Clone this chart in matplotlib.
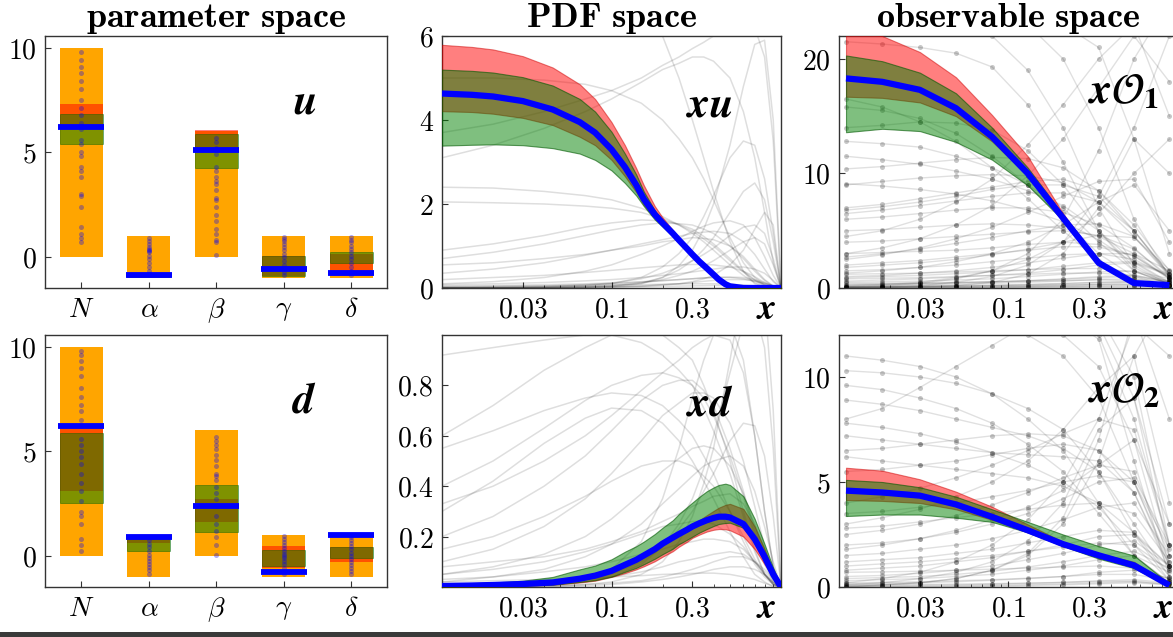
import numpy as np
import matplotlib
matplotlib.use('Agg')
import matplotlib.pyplot as plt
from matplotlib.patches import Rectangle
from matplotlib.ticker import FixedLocator, FixedFormatter, NullFormatter, LogLocator

plt.rcParams['mathtext.fontset'] = 'cm'
plt.rcParams['font.family'] = ['DejaVu Serif']

# ---------------- parameter space ----------------
param_labels = [r'$N$', r'$\alpha$', r'$\beta$', r'$\gamma$', r'$\delta$']
prior_lo = [0, -1, 0, -1, -1]
prior_hi = [10, 1, 6, 1, 1]

u_red_lo = [6.1, -0.95, 5.0, -0.92, -0.92]
u_red_hi = [7.3, -0.82, 6.05, 0.02, 0.12]
u_green_lo = [5.4, -0.95, 4.25, -0.92, -0.32]
u_green_hi = [6.85, -0.82, 5.87, 0.02, 0.21]
u_true = [6.2, -0.88, 5.1, -0.57, -0.8]

d_red_lo = [3.1, 0.6, 1.6, -0.6, -0.32]
d_red_hi = [6.1, 0.85, 2.7, 0.46, 0.4]
d_green_lo = [2.5, 0.2, 1.15, -0.48, -0.11]
d_green_hi = [5.85, 0.8, 3.4, 0.27, 0.4]
d_true = [6.2, 0.9, 2.39, -0.8, 1.0]

# sampled parameter values (dots)
u_dots = [
    [9.8, 9.4, 9.1, 8.8, 8.4, 8.0, 7.5, 7.1, 6.8, 6.4, 6.1, 5.6, 5.4, 5.0, 4.8,
     4.3, 4.1, 3.8, 3.0, 2.9, 2.4, 1.4, 1.1, 0.9, 0.7],
    [0.9, 0.75, 0.6, 0.45, 0.35, 0.3, 0.25, 0.2, 0.05, -0.1, -0.3, -0.5, -0.7, -0.85],
    [5.7, 5.5, 5.2, 4.9, 4.3, 4.1, 3.8, 3.6, 3.5, 3.2, 2.8, 2.7, 2.4, 2.0, 1.7,
     1.3, 1.1, 0.8, 0.7, 0.1],
    [0.95, 0.85, 0.75, 0.6, 0.45, 0.3, 0.15, 0.0, -0.2, -0.4, -0.6, -0.75, -0.9],
    [0.95, 0.8, 0.7, 0.5, 0.35, 0.2, 0.05, -0.1, -0.3, -0.5, -0.7, -0.9],
]
d_dots = [
    [9.8, 9.6, 9.3, 9.0, 8.6, 8.0, 7.6, 7.2, 6.9, 6.5, 6.2, 5.6, 5.3, 5.0, 4.7,
     4.4, 3.9, 3.5, 3.1, 2.6, 2.1, 1.9, 1.5, 0.8, 0.5, 0.2],
    [0.9, 0.75, 0.55, 0.4, 0.2, 0.05, -0.1, -0.25, -0.4, -0.55, -0.7, -0.9],
    [5.7, 5.5, 5.3, 5.1, 4.8, 4.6, 4.3, 3.9, 3.8, 3.6, 3.3, 3.0, 2.7, 2.4, 1.9,
     1.5, 1.2, 0.9, 0.5, 0.05],
    [0.95, 0.8, 0.65, 0.5, 0.35, 0.2, 0.1, 0.0, -0.1, -0.25, -0.4, -0.6, -0.8, -0.9],
    [0.9, 0.75, 0.6, 0.45, 0.3, 0.15, 0.0, -0.15, -0.3, -0.45, -0.6, -0.75, -0.9],
]

# ---------------- PDF space ----------------
x_pdf = [0.01, 0.015, 0.02, 0.03, 0.045, 0.065, 0.08, 0.1, 0.12, 0.14, 0.155,
         0.18, 0.2, 0.23, 0.25, 0.28, 0.3, 0.33, 0.365, 0.4, 0.43, 0.47, 0.5,
         0.6, 0.7, 0.8, 0.9, 1.0]

xu_true = [4.63, 4.6, 4.56, 4.45, 4.25, 3.95, 3.7, 3.3, 2.88, 2.45, 2.12,
           1.75, 1.55, 1.3, 1.14, 0.93, 0.8, 0.63, 0.47, 0.32, 0.2, 0.09, 0.04,
           0, 0, 0, 0, 0]
xu_red_hi = [5.79, 5.74, 5.68, 5.52, 5.25, 4.85, 4.5, 3.95, 3.4, 2.85, 2.45,
             1.95, 1.68, 1.38, 1.18, 0.96, 0.82, 0.65, 0.49, 0.33, 0.21, 0.1, 0.05,
             0, 0, 0, 0, 0]
xu_red_lo = [4.21, 4.19, 4.15, 4.05, 3.88, 3.6, 3.4, 3.05, 2.66, 2.28, 1.98,
             1.66, 1.48, 1.25, 1.1, 0.9, 0.77, 0.61, 0.45, 0.3, 0.18, 0.08, 0.03,
             0, 0, 0, 0, 0]
xu_green_hi = [5.2, 5.17, 5.13, 5.02, 4.82, 4.5, 4.2, 3.72, 3.2, 2.7, 2.3,
               1.85, 1.62, 1.35, 1.17, 0.95, 0.82, 0.65, 0.49, 0.33, 0.21, 0.1, 0.05,
               0, 0, 0, 0, 0]
xu_green_lo = [3.39, 3.41, 3.42, 3.4, 3.33, 3.2, 3.05, 2.8, 2.5, 2.2, 1.95,
               1.63, 1.46, 1.23, 1.08, 0.88, 0.75, 0.59, 0.44, 0.29, 0.17, 0.07, 0.03,
               0, 0, 0, 0, 0]

xd_true = [0.004, 0.006, 0.008, 0.012, 0.018, 0.033, 0.045, 0.064, 0.088, 0.108, 0.125,
           0.15, 0.172, 0.196, 0.21, 0.228, 0.24, 0.253, 0.265, 0.274, 0.279, 0.279,
           0.276, 0.25, 0.19, 0.12, 0.05, 0.0]
xd_red_hi = [0.005, 0.007, 0.009, 0.013, 0.02, 0.034, 0.045, 0.063, 0.087, 0.106, 0.123,
             0.147, 0.168, 0.194, 0.208, 0.23, 0.245, 0.265, 0.285, 0.302, 0.315, 0.326,
             0.33, 0.31, 0.24, 0.15, 0.065, 0.0]
xd_red_lo = [0.001, 0.002, 0.003, 0.005, 0.009, 0.018, 0.025, 0.04, 0.055, 0.07, 0.082,
             0.102, 0.12, 0.142, 0.16, 0.18, 0.195, 0.208, 0.22, 0.227, 0.23, 0.229,
             0.225, 0.2, 0.15, 0.09, 0.04, 0.0]
xd_green_hi = [0.012, 0.015, 0.018, 0.025, 0.04, 0.07, 0.085, 0.11, 0.14, 0.162, 0.18,
               0.21, 0.235, 0.265, 0.29, 0.318, 0.335, 0.358, 0.38, 0.395, 0.405, 0.41,
               0.405, 0.36, 0.27, 0.17, 0.075, 0.0]
xd_green_lo = [0.001, 0.002, 0.003, 0.005, 0.009, 0.02, 0.027, 0.041, 0.06, 0.076, 0.09,
               0.112, 0.13, 0.152, 0.17, 0.188, 0.2, 0.216, 0.23, 0.242, 0.25, 0.254,
               0.255, 0.235, 0.18, 0.11, 0.045, 0.0]

# grey sample curves
x_grey = [0.01, 0.02, 0.04, 0.07, 0.1, 0.15, 0.2, 0.25, 0.3, 0.35, 0.4, 0.5,
          0.6, 0.7, 0.8, 0.9, 1.0]
xu_grey = [
    [5.0, 5.0, 4.95, 4.85, 4.7, 4.4, 4.0, 3.55, 3.1, 2.6, 2.1, 1.2, 0.6, 0.25, 0.08, 0.01, 0],
    [3.7, 3.9, 4.2, 4.5, 4.7, 5.0, 5.3, 5.5, 5.7, 5.85, 6.0, 6.2, 6.3, 6.2, 5.5, 3.5, 0],
    [3.1, 3.4, 3.8, 4.2, 4.5, 4.9, 5.2, 5.35, 5.5, 5.5, 5.4, 5.0, 4.2, 3.1, 1.8, 0.6, 0],
    [2.4, 2.38, 2.3, 2.2, 2.1, 1.9, 1.7, 1.5, 1.3, 1.1, 0.9, 0.55, 0.3, 0.13, 0.04, 0.005, 0],
    [2.05, 2.03, 2.0, 1.95, 1.9, 1.8, 1.65, 1.5, 1.35, 1.17, 1.0, 0.65, 0.38, 0.18, 0.06, 0.01, 0],
    [0.9, 1.05, 1.25, 1.45, 1.55, 1.62, 1.6, 1.52, 1.4, 1.23, 1.05, 0.7, 0.4, 0.2, 0.07, 0.01, 0],
    [0.7, 0.85, 1.05, 1.25, 1.38, 1.5, 1.55, 1.53, 1.5, 1.4, 1.3, 1.0, 0.7, 0.4, 0.18, 0.04, 0],
    [0.55, 0.6, 0.7, 0.8, 0.9, 1.0, 1.1, 1.15, 1.2, 1.18, 1.15, 1.0, 0.75, 0.45, 0.2, 0.05, 0],
    [0.35, 0.45, 0.6, 0.78, 0.9, 1.05, 1.15, 1.23, 1.3, 1.33, 1.35, 1.3, 1.1, 0.8, 0.45, 0.15, 0],
    [0.1, 0.15, 0.25, 0.4, 0.55, 0.8, 1.0, 1.18, 1.35, 1.47, 1.55, 1.6, 1.5, 1.2, 0.75, 0.3, 0],
    [0.0, 0.01, 0.02, 0.05, 0.1, 0.25, 0.5, 0.82, 1.2, 1.7, 2.2, 3.1, 3.5, 3.4, 2.6, 1.3, 0],
    [0, 0, 0.01, 0.02, 0.05, 0.12, 0.25, 0.43, 0.65, 0.92, 1.2, 1.8, 2.3, 2.5, 2.1, 1.1, 0],
    [0, 0, 0, 0.01, 0.03, 0.1, 0.25, 0.53, 0.9, 1.4, 2.0, 3.4, 4.8, 5.8, 5.9, 4.0, 0],
    [9.0, 9.0, 8.8, 8.5, 8.0, 7.0, 6.0, 5.0, 4.0, 3.1, 2.3, 1.1, 0.4, 0.1, 0.02, 0, 0],
    [0, 0.01, 0.03, 0.07, 0.12, 0.22, 0.35, 0.5, 0.65, 0.8, 0.95, 1.25, 1.45, 1.5, 1.3, 0.7, 0],
    [0, 0, 0.01, 0.03, 0.06, 0.12, 0.2, 0.3, 0.4, 0.52, 0.65, 0.9, 1.1, 1.2, 1.05, 0.55, 0],
    [0.05, 0.06, 0.08, 0.1, 0.12, 0.15, 0.18, 0.2, 0.22, 0.24, 0.25, 0.25, 0.22, 0.16, 0.1, 0.04, 0],
    [0.02, 0.03, 0.05, 0.08, 0.1, 0.14, 0.17, 0.2, 0.22, 0.24, 0.25, 0.26, 0.25, 0.2, 0.13, 0.05, 0],
    [0.01, 0.012, 0.015, 0.02, 0.025, 0.03, 0.04, 0.045, 0.05, 0.055, 0.06, 0.06, 0.05, 0.04, 0.02, 0.01, 0],
    [0.08, 0.1, 0.13, 0.17, 0.2, 0.25, 0.3, 0.34, 0.38, 0.42, 0.45, 0.5, 0.5, 0.45, 0.35, 0.18, 0],
    [0.0, 0.0, 0.005, 0.01, 0.02, 0.04, 0.07, 0.1, 0.15, 0.22, 0.3, 0.55, 0.9, 1.4, 1.8, 1.5, 0],
    [0.03, 0.04, 0.05, 0.06, 0.07, 0.08, 0.09, 0.1, 0.1, 0.1, 0.1, 0.09, 0.07, 0.05, 0.03, 0.01, 0],
    [0.0, 0.005, 0.01, 0.02, 0.03, 0.05, 0.08, 0.1, 0.13, 0.16, 0.18, 0.2, 0.2, 0.17, 0.11, 0.04, 0],
    [0.2, 0.25, 0.3, 0.37, 0.42, 0.48, 0.52, 0.55, 0.56, 0.56, 0.55, 0.5, 0.4, 0.27, 0.13, 0.04, 0],
]
xd_grey = [
    [0.55, 0.62, 0.7, 0.75, 0.77, 0.76, 0.72, 0.66, 0.6, 0.52, 0.45, 0.3, 0.18, 0.09, 0.04, 0.01, 0],
    [0.3, 0.42, 0.57, 0.67, 0.71, 0.7, 0.65, 0.58, 0.5, 0.42, 0.35, 0.22, 0.12, 0.05, 0.02, 0, 0],
    [0.6, 0.72, 0.86, 0.95, 1.0, 1.02, 1.0, 0.95, 0.9, 0.8, 0.7, 0.5, 0.3, 0.15, 0.05, 0.01, 0],
    [0.2, 0.28, 0.4, 0.52, 0.62, 0.74, 0.8, 0.82, 0.82, 0.78, 0.72, 0.55, 0.38, 0.22, 0.1, 0.03, 0],
    [0.1, 0.15, 0.24, 0.35, 0.45, 0.58, 0.68, 0.73, 0.77, 0.77, 0.75, 0.65, 0.5, 0.32, 0.16, 0.05, 0],
    [0.05, 0.08, 0.13, 0.2, 0.27, 0.37, 0.46, 0.51, 0.55, 0.56, 0.55, 0.48, 0.37, 0.24, 0.12, 0.04, 0],
    [0.02, 0.04, 0.07, 0.12, 0.17, 0.25, 0.33, 0.39, 0.44, 0.48, 0.5, 0.52, 0.48, 0.38, 0.24, 0.1, 0],
    [0, 0.005, 0.01, 0.03, 0.05, 0.1, 0.16, 0.23, 0.3, 0.38, 0.45, 0.58, 0.65, 0.64, 0.52, 0.28, 0],
    [0, 0, 0.01, 0.02, 0.04, 0.09, 0.16, 0.25, 0.35, 0.47, 0.6, 0.85, 1.05, 1.1, 0.95, 0.55, 0],
    [0, 0, 0, 0.01, 0.02, 0.05, 0.1, 0.18, 0.28, 0.41, 0.55, 0.9, 1.2, 1.3, 1.15, 0.7, 0],
    [0.92, 0.95, 0.98, 1.0, 1.0, 0.97, 0.92, 0.86, 0.8, 0.71, 0.62, 0.45, 0.28, 0.14, 0.05, 0.01, 0],
    [0.15, 0.2, 0.28, 0.36, 0.42, 0.48, 0.5, 0.5, 0.48, 0.44, 0.4, 0.3, 0.2, 0.11, 0.05, 0.01, 0],
    [0.05, 0.07, 0.1, 0.14, 0.17, 0.21, 0.24, 0.25, 0.26, 0.26, 0.25, 0.21, 0.16, 0.1, 0.05, 0.015, 0],
    [0.03, 0.04, 0.06, 0.08, 0.1, 0.13, 0.15, 0.17, 0.18, 0.19, 0.19, 0.18, 0.15, 0.1, 0.05, 0.015, 0],
    [0.01, 0.015, 0.02, 0.03, 0.04, 0.06, 0.08, 0.1, 0.11, 0.12, 0.13, 0.14, 0.13, 0.1, 0.06, 0.02, 0],
    [0, 0, 0.005, 0.01, 0.015, 0.025, 0.04, 0.055, 0.07, 0.085, 0.1, 0.12, 0.12, 0.1, 0.07, 0.03, 0],
    [0.4, 0.5, 0.63, 0.74, 0.8, 0.84, 0.85, 0.83, 0.8, 0.75, 0.68, 0.52, 0.36, 0.2, 0.09, 0.02, 0],
    [0, 0, 0.01, 0.03, 0.07, 0.18, 0.35, 0.55, 0.75, 0.9, 1.0, 1.05, 0.9, 0.6, 0.3, 0.08, 0],
    [0.08, 0.1, 0.12, 0.15, 0.18, 0.22, 0.26, 0.29, 0.32, 0.34, 0.36, 0.37, 0.33, 0.25, 0.15, 0.05, 0],
    [0.33, 0.4, 0.5, 0.6, 0.68, 0.78, 0.85, 0.9, 0.95, 0.98, 1.0, 0.98, 0.85, 0.6, 0.3, 0.08, 0],
    [0.0, 0.0, 0.002, 0.005, 0.01, 0.02, 0.03, 0.04, 0.05, 0.06, 0.07, 0.08, 0.08, 0.07, 0.05, 0.02, 0],
    [0.02, 0.025, 0.03, 0.035, 0.04, 0.045, 0.05, 0.052, 0.054, 0.055, 0.055, 0.05, 0.04, 0.03, 0.015, 0.005, 0],
]

# ---------------- observable space ----------------
x_obs = [0.011, 0.018, 0.03, 0.049, 0.08, 0.13, 0.21, 0.34, 0.55, 0.89]

o1_true = [18.3, 18.0, 17.3, 15.7, 13.2, 10.0, 6.1, 2.2, 0.43, 0.25]
o1_red_hi = [22.5, 22.0, 20.6, 18.4, 15.1, 11.5, 6.5, 2.3, 0.45, 0.3]
o1_red_lo = [16.7, 16.6, 16.2, 15.0, 12.8, 9.8, 6.0, 2.1, 0.4, 0.2]
o1_green_hi = [20.3, 19.8, 18.8, 17.0, 14.0, 10.5, 6.4, 2.4, 0.5, 0.3]
o1_green_lo = [13.6, 13.9, 13.7, 12.75, 11.2, 8.95, 5.9, 2.0, 0.3, 0.15]

o2_true = [4.59, 4.5, 4.35, 3.93, 3.34, 2.7, 2.04, 1.51, 1.03, 0.08]
o2_red_hi = [5.68, 5.54, 5.13, 4.54, 3.82, 2.98, 2.15, 1.6, 1.2, 0.1]
o2_red_lo = [4.14, 4.1, 4.0, 3.7, 3.2, 2.6, 1.95, 1.4, 0.95, 0.05]
o2_green_hi = [5.1, 5.0, 4.75, 4.3, 3.7, 3.1, 2.5, 1.95, 1.5, 0.15]
o2_green_lo = [3.38, 3.45, 3.45, 3.3, 3.1, 2.6, 1.95, 1.35, 0.9, 0.05]

o1_grey = [
    [21.5, 21.3, 21.0, 20.5, 19.3, 16.0, 11.0, 5.0, 1.5, 0.3],
    [15.8, 15.5, 14.8, 13.5, 11.5, 9.0, 6.0, 3.0, 1.0, 0.2],
    [14.0, 14.2, 14.5, 14.4, 13.8, 12.0, 9.0, 5.0, 1.8, 0.3],
    [12.8, 12.6, 12.3, 11.5, 10.5, 9.0, 7.0, 4.0, 1.5, 0.3],
    [11.5, 11.2, 10.8, 10.2, 9.5, 8.5, 7.2, 5.0, 2.3, 0.5],
    [9.0, 9.3, 9.6, 9.8, 9.9, 9.8, 9.2, 7.5, 4.5, 1.0],
    [7.0, 7.3, 7.8, 8.3, 8.8, 9.3, 9.5, 8.5, 5.5, 1.5],
    [6.5, 6.8, 7.2, 7.6, 8.0, 8.3, 8.3, 7.5, 5.0, 1.2],
    [6.0, 6.2, 6.5, 6.8, 7.0, 7.0, 6.6, 5.5, 3.5, 0.8],
    [4.5, 5.0, 6.0, 7.5, 9.5, 12.5, 16.0, 20.0, 23.0, 15.0],
    [3.0, 3.5, 4.3, 5.5, 7.2, 9.8, 13.0, 17.5, 22.0, 18.0],
    [2.5, 2.9, 3.5, 4.3, 5.3, 6.6, 8.0, 9.3, 9.5, 4.0],
    [30.0, 28.0, 26.0, 24.0, 22.0, 19.0, 14.0, 7.0, 2.0, 0.3],
    [28.0, 27.0, 26.0, 25.0, 24.0, 23.0, 20.0, 14.0, 6.0, 1.0],
    [0.1, 0.2, 0.4, 0.8, 1.5, 3.0, 6.0, 12.0, 20.0, 25.0],
    [0.05, 0.1, 0.2, 0.5, 1.0, 2.0, 4.0, 8.0, 14.0, 22.0],
    [0.0, 0.05, 0.1, 0.2, 0.5, 1.2, 3.0, 7.0, 13.0, 10.0],
    [0.2, 0.3, 0.5, 0.9, 1.5, 2.5, 4.0, 6.5, 10.0, 13.0],
    [40.0, 35.0, 30.0, 27.0, 25.0, 24.0, 23.0, 21.0, 13.0, 3.0],
    [3.0, 3.1, 3.2, 3.3, 3.5, 3.8, 4.0, 3.8, 2.8, 0.8],
    [2.0, 2.2, 2.4, 2.7, 3.0, 3.3, 3.6, 3.6, 2.8, 0.9],
    [1.5, 1.6, 1.8, 2.0, 2.3, 2.6, 2.9, 3.0, 2.5, 1.0],
    [1.0, 1.1, 1.3, 1.5, 1.8, 2.2, 2.6, 3.0, 3.0, 1.5],
    [0.8, 0.85, 0.9, 1.0, 1.1, 1.2, 1.3, 1.3, 1.1, 0.5],
    [0.5, 0.55, 0.6, 0.7, 0.8, 1.0, 1.2, 1.4, 1.5, 0.8],
    [0.3, 0.35, 0.4, 0.45, 0.55, 0.65, 0.8, 1.0, 1.1, 0.6],
    [0.15, 0.2, 0.25, 0.3, 0.4, 0.5, 0.6, 0.75, 0.8, 0.5],
    [0.05, 0.06, 0.08, 0.1, 0.13, 0.18, 0.25, 0.35, 0.45, 0.3],
    [0.02, 0.03, 0.04, 0.06, 0.08, 0.12, 0.17, 0.25, 0.3, 0.2],
    [5.0, 5.1, 5.3, 5.5, 5.6, 5.5, 5.2, 4.5, 3.0, 0.8],
    [4.0, 4.1, 4.3, 4.5, 4.7, 4.9, 5.0, 4.6, 3.4, 1.0],
    [0.0, 0.0, 0.01, 0.02, 0.04, 0.07, 0.1, 0.15, 0.2, 0.1],
    [0.1, 0.12, 0.15, 0.2, 0.25, 0.32, 0.4, 0.5, 0.55, 0.3],
    [0.6, 0.7, 0.8, 0.95, 1.1, 1.3, 1.6, 2.0, 2.2, 1.1],
    [6.8, 7.1, 7.5, 8.0, 8.6, 9.0, 9.0, 8.0, 5.0, 1.0],
    [9.1, 8.9, 8.6, 8.2, 7.6, 6.8, 5.8, 4.2, 2.2, 0.4],
    [2.7, 3.0, 3.4, 3.9, 4.4, 5.0, 5.5, 5.6, 4.5, 1.2],
    [1.8, 2.0, 2.2, 2.5, 2.9, 3.4, 4.0, 4.6, 4.4, 1.6],
    [1.2, 1.25, 1.3, 1.4, 1.5, 1.6, 1.7, 1.7, 1.4, 0.6],
    [0.9, 1.0, 1.1, 1.25, 1.4, 1.6, 1.9, 2.2, 2.3, 1.2],
    [0.4, 0.42, 0.45, 0.5, 0.55, 0.6, 0.65, 0.7, 0.65, 0.3],
    [0.25, 0.3, 0.35, 0.42, 0.5, 0.62, 0.75, 0.9, 1.0, 0.5],
    [0.12, 0.13, 0.15, 0.17, 0.2, 0.23, 0.27, 0.3, 0.3, 0.15],
    [0.08, 0.1, 0.12, 0.16, 0.21, 0.28, 0.37, 0.48, 0.55, 0.35],
    [0.03, 0.04, 0.05, 0.06, 0.07, 0.08, 0.09, 0.1, 0.1, 0.05],
    [16.5, 15.8, 14.5, 12.8, 10.5, 7.8, 5.0, 2.4, 0.8, 0.2],
    [10.4, 10.6, 10.9, 11.2, 11.4, 11.3, 10.5, 8.5, 5.0, 1.2],
    [1.3, 1.5, 1.8, 2.3, 3.0, 4.0, 5.5, 7.5, 9.0, 5.0],
]
o2_grey = [
    [11.0, 10.8, 10.5, 10.0, 9.2, 8.0, 6.5, 4.0, 1.5, 0.2],
    [10.3, 10.2, 10.0, 9.7, 9.2, 8.5, 7.5, 5.5, 2.5, 0.3],
    [9.6, 9.4, 9.0, 8.5, 7.8, 6.8, 5.5, 3.5, 1.5, 0.2],
    [8.9, 8.7, 8.4, 8.0, 7.6, 7.2, 6.6, 5.5, 3.0, 0.5],
    [8.0, 8.5, 9.5, 10.5, 11.5, 12.5, 13.0, 13.0, 10.0, 2.0],
    [7.8, 7.6, 7.3, 6.9, 6.4, 5.8, 5.0, 3.8, 2.0, 0.3],
    [6.5, 6.6, 6.8, 7.0, 7.2, 7.3, 7.2, 6.5, 4.5, 1.0],
    [6.2, 6.0, 5.8, 5.6, 5.4, 5.2, 4.8, 4.0, 2.6, 0.5],
    [5.5, 5.6, 5.8, 6.0, 6.3, 6.6, 6.8, 6.5, 5.0, 1.2],
    [4.0, 4.3, 4.7, 5.2, 5.8, 6.5, 7.3, 8.0, 7.5, 2.0],
    [3.0, 3.3, 3.7, 4.3, 5.0, 6.0, 7.5, 9.5, 11.0, 4.0],
    [2.5, 2.7, 3.0, 3.4, 3.9, 4.5, 5.2, 5.8, 5.5, 1.5],
    [2.0, 2.1, 2.3, 2.6, 3.0, 3.5, 4.2, 5.0, 5.2, 2.0],
    [1.5, 1.6, 1.8, 2.0, 2.3, 2.7, 3.2, 3.8, 4.0, 1.5],
    [1.2, 1.3, 1.4, 1.6, 1.8, 2.1, 2.4, 2.7, 2.6, 1.0],
    [0.8, 0.9, 1.0, 1.2, 1.4, 1.7, 2.0, 2.4, 2.5, 1.0],
    [0.5, 0.55, 0.65, 0.8, 1.0, 1.3, 1.6, 2.0, 2.2, 1.0],
    [0.3, 0.35, 0.4, 0.5, 0.6, 0.8, 1.0, 1.3, 1.5, 0.7],
    [0.15, 0.17, 0.2, 0.25, 0.32, 0.4, 0.5, 0.7, 0.8, 0.4],
    [0.05, 0.06, 0.08, 0.1, 0.13, 0.17, 0.22, 0.3, 0.35, 0.2],
    [0.0, 0.1, 0.2, 0.4, 0.8, 1.5, 3.0, 6.0, 11.0, 14.0],
    [0.05, 0.1, 0.2, 0.4, 0.8, 1.6, 3.3, 7.0, 13.0, 8.0],
    [0.1, 0.2, 0.4, 0.7, 1.2, 2.2, 4.0, 7.5, 9.0, 3.0],
    [14.0, 13.5, 13.0, 12.8, 12.5, 12.0, 11.0, 9.0, 5.0, 1.0],
    [20.0, 18.0, 17.0, 16.0, 15.0, 14.0, 13.0, 12.0, 8.0, 2.0],
    [25.0, 23.0, 21.0, 19.0, 17.0, 15.0, 13.5, 12.5, 9.0, 1.5],
    [18.0, 17.0, 16.5, 16.0, 15.0, 14.0, 13.0, 11.8, 6.0, 0.5],
    [1.8, 2.0, 2.3, 2.7, 3.2, 3.8, 4.6, 5.8, 7.0, 3.0],
    [0.0, 0.0, 0.01, 0.02, 0.04, 0.07, 0.1, 0.15, 0.2, 0.1],
    [0.02, 0.03, 0.04, 0.06, 0.08, 0.11, 0.15, 0.2, 0.25, 0.12],
    [3.5, 3.6, 3.8, 4.0, 4.3, 4.6, 5.0, 5.3, 5.0, 1.8],
    [2.8, 2.9, 3.1, 3.3, 3.5, 3.7, 3.9, 4.0, 3.5, 1.2],
    [1.0, 1.1, 1.2, 1.35, 1.5, 1.7, 1.9, 2.1, 2.0, 0.8],
    [0.7, 0.72, 0.75, 0.8, 0.85, 0.9, 0.95, 1.0, 0.9, 0.4],
    [0.4, 0.45, 0.5, 0.6, 0.75, 0.95, 1.2, 1.5, 1.7, 0.9],
    [0.2, 0.22, 0.25, 0.3, 0.35, 0.42, 0.5, 0.6, 0.6, 0.3],
    [0.1, 0.11, 0.12, 0.14, 0.16, 0.19, 0.22, 0.26, 0.28, 0.14],
    [7.2, 7.0, 6.8, 6.6, 6.4, 6.3, 6.2, 6.0, 4.5, 0.8],
    [0.2, 0.4, 0.7, 1.2, 2.0, 3.2, 5.0, 8.0, 12.5, 11.0],
    [30.0, 26.0, 22.0, 19.0, 16.5, 14.0, 12.0, 10.5, 7.0, 1.0],
]

EDGE = '#333333'
TICK_FS = 20
LABEL_FS = 31


def style_axes(ax):
    for s in ax.spines.values():
        s.set_color(EDGE)
        s.set_linewidth(1.0)
    ax.tick_params(which='both', direction='in', color=EDGE, labelsize=TICK_FS,
                   top=False, right=False)
    ax.tick_params(which='major', length=4, width=0.8, pad=6)
    ax.tick_params(which='minor', length=2.5, width=0.6)


def draw_params(ax, red_lo, red_hi, green_lo, green_hi, true_vals, dots, label):
    idx = np.arange(len(param_labels))
    ax.bar(idx, np.array(prior_hi) - np.array(prior_lo), bottom=prior_lo,
           width=0.64, color='orange', lw=0, zorder=1)
    ax.bar(idx, np.array(red_hi) - np.array(red_lo), bottom=red_lo,
           width=0.64, color='red', alpha=0.5, lw=0, zorder=2)
    ax.bar(idx, np.array(green_hi) - np.array(green_lo), bottom=green_lo,
           width=0.64, color='green', alpha=0.5, lw=0.6, edgecolor='darkgreen', zorder=3)
    for i, vals in enumerate(dots):
        ax.scatter([i] * len(vals), vals, s=13, color='blue', alpha=0.33,
                   lw=0, zorder=4)
    ax.hlines(true_vals, idx - 0.34, idx + 0.34, color='blue', lw=4.2, zorder=5)
    ax.set_xlim(-0.54, 4.53)
    ax.set_ylim(-1.5, 10.56)
    ax.xaxis.set_major_locator(FixedLocator(idx))
    ax.xaxis.set_major_formatter(FixedFormatter(param_labels))
    ax.yaxis.set_major_locator(FixedLocator([0, 5, 10]))
    ax.yaxis.set_major_formatter(FixedFormatter([r'$0$', r'$5$', r'$10$']))
    style_axes(ax)
    ax.text(0.76, 0.74, r'$\mathbfit{' + label + '}$', transform=ax.transAxes,
            fontsize=LABEL_FS, math_fontfamily='stix', ha='center', va='center')


def log_x(ax):
    ax.set_xscale('log')
    ax.xaxis.set_major_locator(FixedLocator([0.03, 0.1, 0.3]))
    ax.xaxis.set_major_formatter(FixedFormatter([r'$0.03$', r'$0.1$', r'$0.3$']))
    ax.xaxis.set_minor_locator(LogLocator(base=10, subs=np.arange(2, 10)))
    ax.xaxis.set_minor_formatter(NullFormatter())
    ax.text(0.958, -0.085, r'$\mathbfit{x}$', transform=ax.transAxes,
            fontsize=26, math_fontfamily='stix', ha='center', va='center',
            clip_on=False)


def draw_bands(ax, x, red_lo, red_hi, green_lo, green_hi, true_vals):
    ax.fill_between(x, red_lo, red_hi, facecolor=(1, 0, 0, 0.5),
                    edgecolor=(0.8, 0, 0, 0.5), lw=0.8, zorder=3)
    ax.fill_between(x, green_lo, green_hi, facecolor=(0, 0.5, 0, 0.5),
                    edgecolor=(0, 0.35, 0, 0.6), lw=0.8, zorder=4)
    ax.plot(x, true_vals, color='blue', lw=4.5, solid_capstyle='butt',
            solid_joinstyle='round', zorder=5)


def draw_pdf(ax, grey, red_lo, red_hi, green_lo, green_hi, true_vals, ylim,
             yticks, ylabels, label):
    for c in grey:
        ax.plot(x_grey, c, color='k', alpha=0.13, lw=1.1, zorder=2)
    draw_bands(ax, x_pdf, red_lo, red_hi, green_lo, green_hi, true_vals)
    ax.set_xlim(0.01, 1.0)
    ax.set_ylim(*ylim)
    log_x(ax)
    ax.yaxis.set_major_locator(FixedLocator(yticks))
    ax.yaxis.set_major_formatter(FixedFormatter(ylabels))
    style_axes(ax)
    ax.text(0.79, 0.73, label, transform=ax.transAxes, fontsize=LABEL_FS,
            math_fontfamily='stix', ha='center', va='center', zorder=6)


def draw_obs(ax, grey, red_lo, red_hi, green_lo, green_hi, true_vals, ylim,
             yticks, ylabels, label, label_y):
    for c in grey:
        ax.plot(x_obs, c, '-', color='k', alpha=0.12, lw=1.0, zorder=2)
        ax.plot(x_obs, c, 'o', color='k', alpha=0.22, ms=3.6, mew=0, zorder=2)
    draw_bands(ax, x_obs, red_lo, red_hi, green_lo, green_hi, true_vals)
    ax.set_xlim(0.01, 1.0)
    ax.set_ylim(*ylim)
    log_x(ax)
    ax.yaxis.set_major_locator(FixedLocator(yticks))
    ax.yaxis.set_major_formatter(FixedFormatter(ylabels))
    style_axes(ax)
    ax.text(0.84, label_y, label, transform=ax.transAxes, fontsize=LABEL_FS,
            math_fontfamily='stix', ha='center', va='center', zorder=6)


fig = plt.figure(figsize=(11.73, 6.37), dpi=100)
W, H = 1173.0, 637.0


def add_ax(left, top, width=339, height=252):
    return fig.add_axes([left / W, 1 - (top + height) / H, width / W, height / H])


ax1 = add_ax(45, 36, width=342)
ax2 = add_ax(442, 36)
ax3 = add_ax(839, 36)
ax4 = add_ax(45, 335, width=342)
ax5 = add_ax(442, 335)
ax6 = add_ax(839, 335)

draw_params(ax1, u_red_lo, u_red_hi, u_green_lo, u_green_hi, u_true, u_dots, 'u')
draw_params(ax4, d_red_lo, d_red_hi, d_green_lo, d_green_hi, d_true, d_dots, 'd')

draw_pdf(ax2, xu_grey, xu_red_lo, xu_red_hi, xu_green_lo, xu_green_hi, xu_true,
         (0, 6), [0, 2, 4, 6], [r'$0$', r'$2$', r'$4$', r'$6$'], r'$\mathbfit{xu}$')
draw_pdf(ax5, xd_grey, xd_red_lo, xd_red_hi, xd_green_lo, xd_green_hi, xd_true,
         (0, 1.0), [0.2, 0.4, 0.6, 0.8], [r'$0.2$', r'$0.4$', r'$0.6$', r'$0.8$'],
         r'$\mathbfit{xd}$')

draw_obs(ax3, o1_grey, o1_red_lo, o1_red_hi, o1_green_lo, o1_green_hi, o1_true,
         (0, 22), [0, 10, 20], [r'$0$', r'$10$', r'$20$'],
         r'$\mathbfit{x}\mathcal{O}_{\mathbf{1}}$', 0.78)
draw_obs(ax6, o2_grey, o2_red_lo, o2_red_hi, o2_green_lo, o2_green_hi, o2_true,
         (0, 12), [0, 5, 10], [r'$0$', r'$5$', r'$10$'],
         r'$\mathbfit{x}\mathcal{O}_{\mathbf{2}}$', 0.78)

for ax, title in [(ax1, 'parameter\\ space'), (ax2, 'PDF\\ space'),
                  (ax3, 'observable\\ space')]:
    ax.set_title(r'$\mathbf{' + title + '}$', fontsize=26, pad=3)

fig.add_artist(Rectangle((0, 0), 1, 5 / H, transform=fig.transFigure,
                         color='#3a3a3a', lw=0))

fig.savefig('out.png', dpi=100)
